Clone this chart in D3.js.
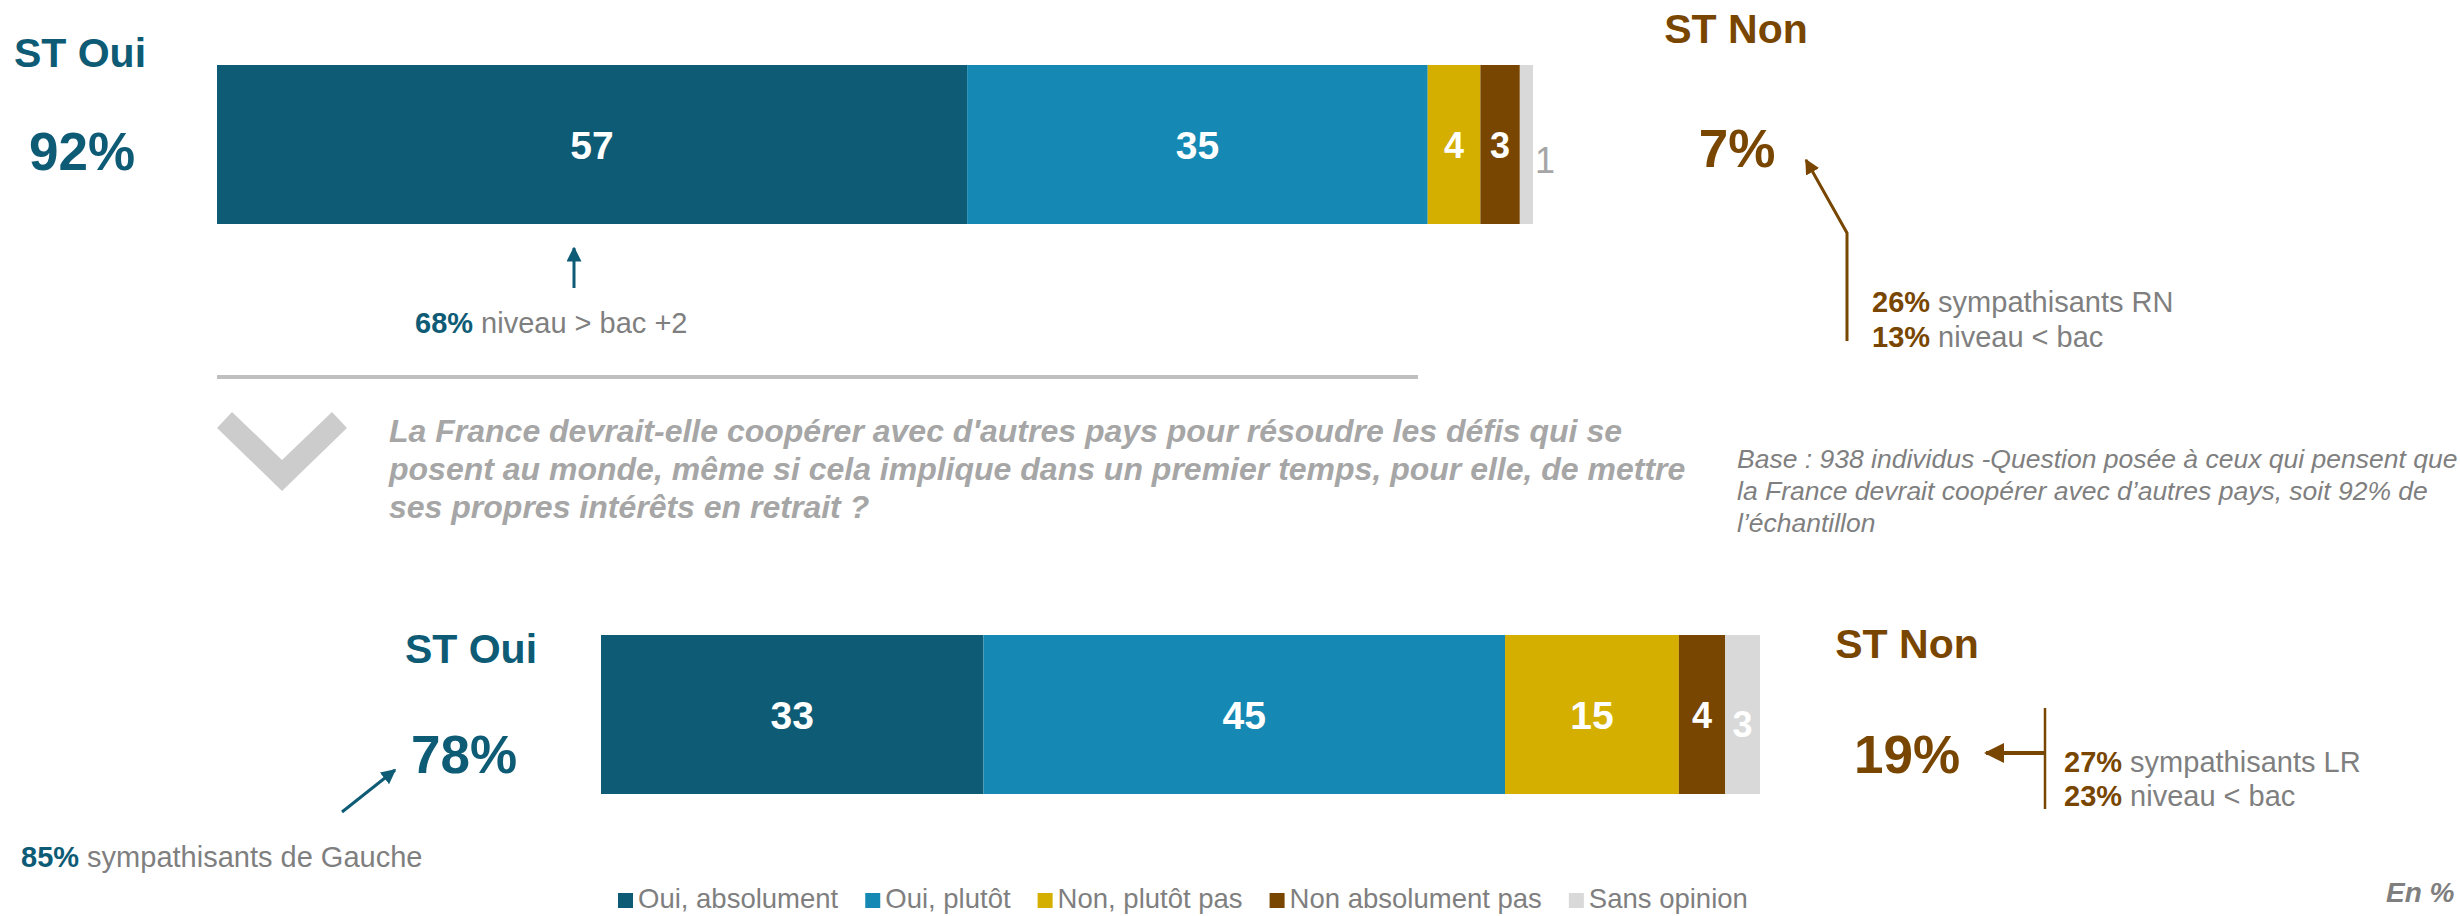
<!DOCTYPE html>
<html lang="fr">
<head>
<meta charset="UTF-8">
<title>Coopération France</title>
<script src="https://d3js.org/d3.v7.min.js"></script>
<style>
  body { margin: 0; background: #fff; overflow: hidden; }
  svg text { font-family: "Liberation Sans", Arial, sans-serif; }
</style>
</head>
<body>
<script>
// ---- data ----
const categories = ["Oui, absolument", "Oui, plutôt", "Non, plutôt pas", "Non absolument pas", "Sans opinion"];
const colors = ["#0e5b76", "#1589b3", "#d4af00", "#784600", "#d9d9d9"];
const valuesQ1 = [57, 35, 4, 3, 1];
const valuesQ2 = [33, 45, 15, 4, 3];
const stOui = ["92%", "78%"];
const stNon = ["7%", "19%"];
const question = [
  "La France devrait-elle coopérer avec d'autres pays pour résoudre les défis qui se",
  "posent au monde, même si cela implique dans un premier temps, pour elle, de mettre",
  "ses propres intérêts en retrait ?"
];
const baseNote = [
  "Base : 938 individus -Question posée à ceux qui pensent que",
  "la France devrait coopérer avec d’autres pays, soit 92% de",
  "l’échantillon"
];

const teal = "#0e5b76", brown = "#784600", grey = "#7f7f7f";
const width = 2460, height = 916;

const svg = d3.select("body").append("svg")
  .attr("width", width)
  .attr("height", height);

const defs = svg.append("defs");
[["arrTeal", teal], ["arrBrown", brown]].forEach(([id, c]) => {
  defs.append("marker")
    .attr("id", id)
    .attr("viewBox", "0 0 10 10")
    .attr("refX", 9).attr("refY", 5)
    .attr("markerWidth", 5).attr("markerHeight", 5)
    .attr("markerUnits", "strokeWidth")
    .attr("orient", "auto")
    .append("path")
    .attr("d", "M0,0 L10,5 L0,10 Z")
    .attr("fill", c);
});

// stacked bar helper
function drawBar(values, x0, x1, y0, y1, sansInside) {
  const x = d3.scaleLinear().domain([0, 100]).range([x0, x1]);
  const y = d3.scaleBand().domain([0]).range([y0, y1]).padding(0);
  let acc = 0;
  const segs = values.map((v, i) => {
    const s = { i, v, start: acc, end: acc + v };
    acc += v;
    return s;
  });
  const g = svg.append("g");
  g.selectAll("rect")
    .data(segs)
    .enter().append("rect")
    .attr("x", d => x(d.start))
    .attr("y", y(0))
    .attr("width", d => x(d.end) - x(d.start))
    .attr("height", y.bandwidth())
    .attr("fill", d => colors[d.i]);

  const cy = y(0) + y.bandwidth() / 2;
  g.selectAll("text")
    .data(segs)
    .enter().append("text")
    .attr("x", d => {
      if (d.i === 4 && !sansInside) return x(d.end) + 2;
      return (x(d.start) + x(d.end)) / 2;
    })
    .attr("y", d => {
      if (d.i === 4) return cy + (sansInside ? 22 : 28);
      return cy + (d.v < 10 ? 13 : 14);
    })
    .attr("text-anchor", d => (d.i === 4 && !sansInside) ? "start" : "middle")
    .attr("font-size", d => d.v < 10 ? 36 : 39)
    .attr("font-weight", d => (d.i === 4 && !sansInside) ? "normal" : "bold")
    .attr("fill", d => (d.i === 4 && !sansInside) ? "#a6a6a6" : "#fff")
    .text(d => d.v);
}

drawBar(valuesQ1, 217, 1533, 65, 224, false);
drawBar(valuesQ2, 601, 1760, 635, 794, true);

// ST labels
function label(x, y, txt, size, color, anchor) {
  return svg.append("text")
    .attr("x", x).attr("y", y)
    .attr("text-anchor", anchor || "middle")
    .attr("font-size", size)
    .attr("font-weight", "bold")
    .attr("fill", color)
    .text(txt);
}
label(80, 67, "ST Oui", 41, teal);
label(82, 170, stOui[0], 53, teal);
label(1736, 43, "ST Non", 41, brown);
label(1737, 167, stNon[0], 53, brown);
label(471, 663, "ST Oui", 41, teal);
label(464, 773, stOui[1], 53, teal);
label(1907, 658, "ST Non", 41, brown);
label(1907, 773, stNon[1], 53, brown);

// annotation text: bold percentage + grey remainder
function note(x, y, pct, rest, color) {
  const t = svg.append("text")
    .attr("x", x).attr("y", y)
    .attr("font-size", 29)
    .attr("fill", grey);
  t.append("tspan").attr("font-weight", "bold").attr("fill", color).text(pct);
  t.append("tspan").text(" " + rest);
}
note(415, 333, "68%", "niveau > bac +2", teal);
note(1872, 312, "26%", "sympathisants RN", brown);
note(1872, 347, "13%", "niveau < bac", brown);
note(21, 867, "85%", "sympathisants de Gauche", teal);
note(2064, 772, "27%", "sympathisants LR", brown);
note(2064, 806, "23%", "niveau < bac", brown);

// arrows
const line = d3.line();
svg.append("path")
  .attr("d", line([[574, 288], [574, 248]]))
  .attr("stroke", teal).attr("stroke-width", 3).attr("fill", "none")
  .attr("marker-end", "url(#arrTeal)");
svg.append("path")
  .attr("d", line([[1847, 341], [1847, 233], [1806, 160]]))
  .attr("stroke", brown).attr("stroke-width", 3).attr("fill", "none")
  .attr("marker-end", "url(#arrBrown)");
svg.append("path")
  .attr("d", line([[342, 812], [395, 770]]))
  .attr("stroke", teal).attr("stroke-width", 3).attr("fill", "none")
  .attr("marker-end", "url(#arrTeal)");
svg.append("path")
  .attr("d", line([[2045, 708], [2045, 809]]))
  .attr("stroke", brown).attr("stroke-width", 2.5).attr("fill", "none");
svg.append("path")
  .attr("d", line([[2045, 753], [1986, 753]]))
  .attr("stroke", brown).attr("stroke-width", 4).attr("fill", "none")
  .attr("marker-end", "url(#arrBrown)");

// separator + chevron
svg.append("line")
  .attr("x1", 217).attr("x2", 1418).attr("y1", 377).attr("y2", 377)
  .attr("stroke", "#bfbfbf").attr("stroke-width", 4);
svg.append("path")
  .attr("d", line([[217, 428], [232, 412], [282, 460], [332, 412], [347, 428], [282, 491]]) + "Z")
  .attr("fill", "#cccccc");

// question
svg.append("g").selectAll("text")
  .data(question)
  .enter().append("text")
  .attr("x", 389)
  .attr("y", (d, i) => 442 + i * 38)
  .attr("font-size", 32)
  .attr("font-weight", "bold")
  .attr("font-style", "italic")
  .attr("fill", "#a6a6a6")
  .text(d => d);

// base note
svg.append("g").selectAll("text")
  .data(baseNote)
  .enter().append("text")
  .attr("x", 1737)
  .attr("y", (d, i) => 468 + i * 32)
  .attr("font-size", 26.5)
  .attr("font-style", "italic")
  .attr("fill", grey)
  .text(d => d);

// legend
const leg = svg.append("g");
let lx = 618;
categories.forEach((c, i) => {
  leg.append("rect")
    .attr("x", lx).attr("y", 893)
    .attr("width", 15).attr("height", 15)
    .attr("fill", colors[i]);
  const t = leg.append("text")
    .attr("x", lx + 20).attr("y", 908)
    .attr("font-size", 27.5)
    .attr("fill", grey)
    .text(c);
  lx += 20 + t.node().getComputedTextLength() + 27;
});

svg.append("text")
  .attr("x", 2386).attr("y", 902)
  .attr("font-size", 28)
  .attr("font-weight", "bold")
  .attr("font-style", "italic")
  .attr("fill", grey)
  .text("En %");
</script>
</body>
</html>
